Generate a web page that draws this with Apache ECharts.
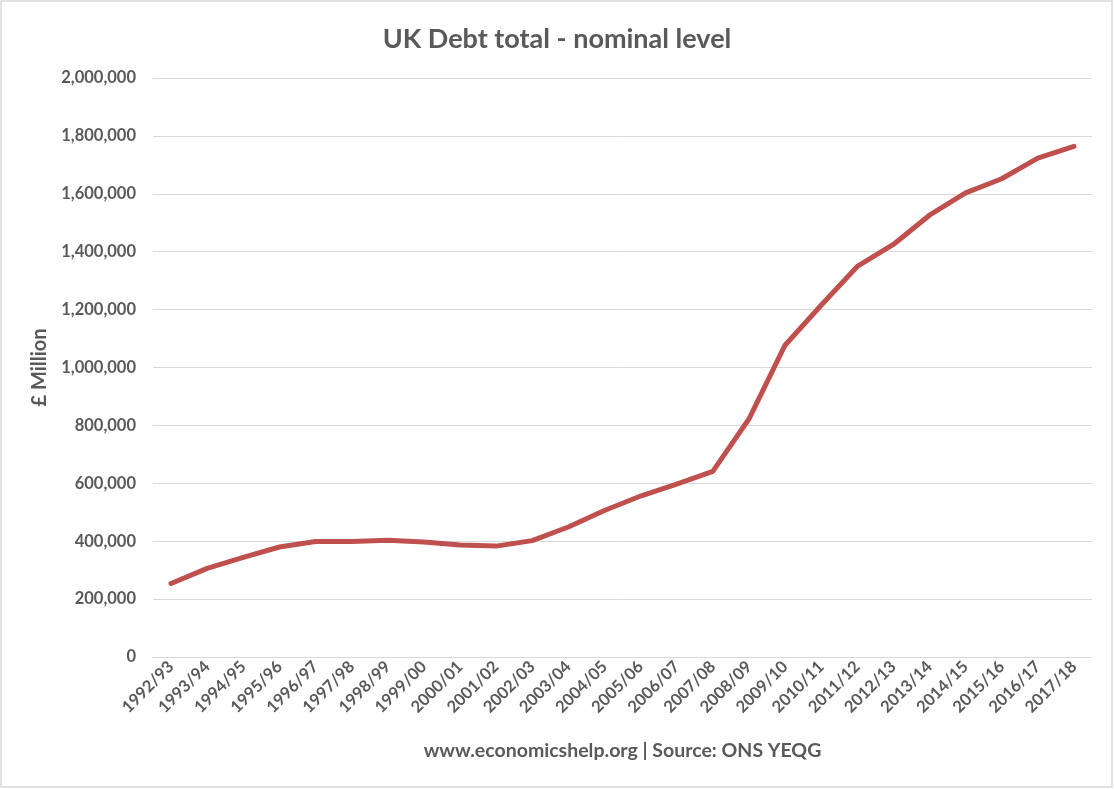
<!DOCTYPE html>
<html>
<head>
<meta charset="utf-8">
<script src="https://cdn.jsdelivr.net/npm/echarts@6/dist/echarts.min.js"></script>
<style>
html,body{margin:0;padding:0;background:#fff;}
#chart{width:1114px;height:789px;}
</style>
</head>
<body>
<div id="chart"></div>
<script>
const categories = ["1992/93","1993/94","1994/95","1995/96","1996/97","1997/98","1998/99","1999/00","2000/01","2001/02","2002/03","2003/04","2004/05","2005/06","2006/07","2007/08","2008/09","2009/10","2010/11","2011/12","2012/13","2013/14","2014/15","2015/16","2016/17","2017/18"];
const debtValues = [254000,306000,344000,380000,399000,399000,403000,397000,387000,383000,402000,449000,506000,556000,597000,641000,822000,1077000,1215000,1349000,1425000,1526000,1603000,1652000,1723000,1764000];
const titleText = "UK Debt total - nominal level";
const yAxisName = "£ Million";
const xAxisName = "www.economicshelp.org | Source: ONS YEQG";

const chart = echarts.init(document.getElementById('chart'));
const txt = '#595959';
const font = 'Lato, "Open Sans", sans-serif';
chart.setOption({
  animation: false,
  backgroundColor: '#ffffff',
  graphic: [{
    type: 'rect',
    shape: {x: 1, y: 1, width: 1111, height: 786},
    style: {fill: 'none', stroke: '#d9d9d9', lineWidth: 1.5},
    silent: true
  }],
  title: {
    text: titleText,
    left: 'center',
    top: 21,
    textStyle: {color: txt, fontSize: 27, fontWeight: 'bold', fontFamily: font}
  },
  grid: {left: 153, right: 22, top: 78, bottom: 132, containLabel: false},
  xAxis: {
    type: 'category',
    data: categories,
    boundaryGap: true,
    name: xAxisName,
    nameLocation: 'middle',
    nameGap: 84,
    nameTextStyle: {color: txt, fontSize: 19.5, fontWeight: 'bold', fontFamily: font},
    axisLine: {show: true, lineStyle: {color: '#d9d9d9', width: 1}},
    axisTick: {show: false},
    axisLabel: {color: txt, fontSize: 16.5, fontWeight: 'bold', fontFamily: font, rotate: 45, interval: 0, margin: 7}
  },
  yAxis: {
    type: 'value',
    min: 0,
    max: 2000000,
    interval: 200000,
    name: yAxisName,
    nameLocation: 'middle',
    nameGap: 103,
    nameRotate: 90,
    nameTextStyle: {color: txt, fontSize: 20, fontWeight: 'bold', fontFamily: font},
    axisLine: {show: false},
    axisTick: {show: false},
    splitLine: {lineStyle: {color: '#d9d9d9', width: 1}},
    axisLabel: {
      color: txt, fontSize: 16.5, fontWeight: 'bold', fontFamily: font, margin: 17,
      formatter: v => v.toLocaleString('en-US')
    }
  },
  series: [{
    type: 'line',
    data: debtValues,
    showSymbol: false,
    symbol: 'none',
    lineStyle: {color: '#C0504D', width: 5, cap: 'round', join: 'round'},
    itemStyle: {color: '#C0504D'}
  }]
});
</script>
</body>
</html>
